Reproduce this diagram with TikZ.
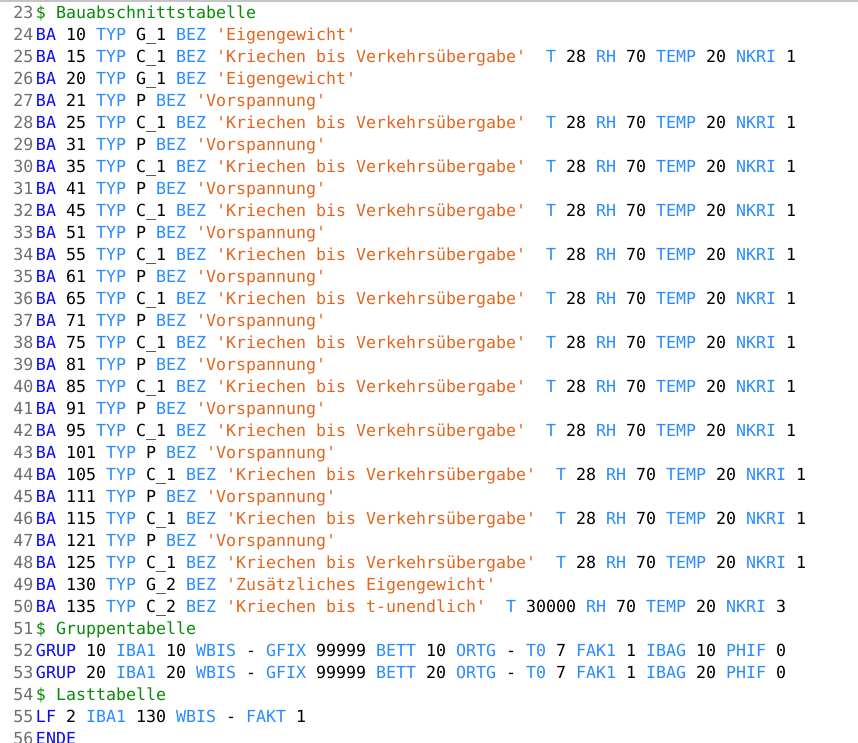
\documentclass[tikz,border=0pt]{standalone}
\usepackage{fontspec}
\setmonofont{DejaVu Sans Mono}
\definecolor{lnogray}{HTML}{6E6E6E}
\definecolor{kwblue}{HTML}{0A0AF0}
\definecolor{attrblue}{HTML}{2A8CFF}
\definecolor{strorange}{HTML}{E2661F}
\definecolor{cmgreen}{HTML}{078A07}
\definecolor{topgray}{HTML}{C4C4C4}
\newcommand\cKw[1]{\textcolor{kwblue}{#1}}
\newcommand\cAt[1]{\textcolor{attrblue}{#1}}
\newcommand\cSt[1]{\textcolor{strorange}{#1}}
\newcommand\cCm[1]{\textcolor{cmgreen}{#1}}
\newcommand\cCr{\cAt{T} 28 \cAt{RH} 70 \cAt{TEMP} 20 \cAt{NKRI} 1}
\tikzset{
  codefont/.style={font=\ttfamily\fontsize{12.46pt}{14pt}\selectfont},
  codeline/.style={codefont, inner sep=0pt, outer sep=0pt, anchor=base west, text=black},
  lineno/.style={codefont, inner sep=0pt, outer sep=0pt, anchor=base east, text=lnogray}
}
\begin{document}
\begin{tikzpicture}[x=0.75pt,y=-0.75pt]
\useasboundingbox (0,0) rectangle (858,743);
\fill[white] (0,0) rectangle (858,743);
\clip (0,0) rectangle (858,743);
\fill[topgray] (0,0) rectangle (858,1.6);
% line numbers
\foreach \n [count=\k from 0] in {23,...,56}{
  \node[lineno] (n\n) at (33.5,18.5+22*\k) {\n};
}
\node[codeline] (l23) at (36,18.5) {\cCm{\$ Bauabschnittstabelle}};
\node[codeline] (l24) at (36,40.5) {\cKw{BA} 10 \cAt{TYP} G\_1 \cAt{BEZ} \cSt{'Eigengewicht'}};
\node[codeline] (l25) at (36,62.5) {\cKw{BA} 15 \cAt{TYP} C\_1 \cAt{BEZ} \cSt{'Kriechen bis Verkehrsübergabe'}\ \ \cCr};
\node[codeline] (l26) at (36,84.5) {\cKw{BA} 20 \cAt{TYP} G\_1 \cAt{BEZ} \cSt{'Eigengewicht'}};
\node[codeline] (l27) at (36,106.5) {\cKw{BA} 21 \cAt{TYP} P \cAt{BEZ} \cSt{'Vorspannung'}};
\node[codeline] (l28) at (36,128.5) {\cKw{BA} 25 \cAt{TYP} C\_1 \cAt{BEZ} \cSt{'Kriechen bis Verkehrsübergabe'}\ \ \cCr};
\node[codeline] (l29) at (36,150.5) {\cKw{BA} 31 \cAt{TYP} P \cAt{BEZ} \cSt{'Vorspannung'}};
\node[codeline] (l30) at (36,172.5) {\cKw{BA} 35 \cAt{TYP} C\_1 \cAt{BEZ} \cSt{'Kriechen bis Verkehrsübergabe'}\ \ \cCr};
\node[codeline] (l31) at (36,194.5) {\cKw{BA} 41 \cAt{TYP} P \cAt{BEZ} \cSt{'Vorspannung'}};
\node[codeline] (l32) at (36,216.5) {\cKw{BA} 45 \cAt{TYP} C\_1 \cAt{BEZ} \cSt{'Kriechen bis Verkehrsübergabe'}\ \ \cCr};
\node[codeline] (l33) at (36,238.5) {\cKw{BA} 51 \cAt{TYP} P \cAt{BEZ} \cSt{'Vorspannung'}};
\node[codeline] (l34) at (36,260.5) {\cKw{BA} 55 \cAt{TYP} C\_1 \cAt{BEZ} \cSt{'Kriechen bis Verkehrsübergabe'}\ \ \cCr};
\node[codeline] (l35) at (36,282.5) {\cKw{BA} 61 \cAt{TYP} P \cAt{BEZ} \cSt{'Vorspannung'}};
\node[codeline] (l36) at (36,304.5) {\cKw{BA} 65 \cAt{TYP} C\_1 \cAt{BEZ} \cSt{'Kriechen bis Verkehrsübergabe'}\ \ \cCr};
\node[codeline] (l37) at (36,326.5) {\cKw{BA} 71 \cAt{TYP} P \cAt{BEZ} \cSt{'Vorspannung'}};
\node[codeline] (l38) at (36,348.5) {\cKw{BA} 75 \cAt{TYP} C\_1 \cAt{BEZ} \cSt{'Kriechen bis Verkehrsübergabe'}\ \ \cCr};
\node[codeline] (l39) at (36,370.5) {\cKw{BA} 81 \cAt{TYP} P \cAt{BEZ} \cSt{'Vorspannung'}};
\node[codeline] (l40) at (36,392.5) {\cKw{BA} 85 \cAt{TYP} C\_1 \cAt{BEZ} \cSt{'Kriechen bis Verkehrsübergabe'}\ \ \cCr};
\node[codeline] (l41) at (36,414.5) {\cKw{BA} 91 \cAt{TYP} P \cAt{BEZ} \cSt{'Vorspannung'}};
\node[codeline] (l42) at (36,436.5) {\cKw{BA} 95 \cAt{TYP} C\_1 \cAt{BEZ} \cSt{'Kriechen bis Verkehrsübergabe'}\ \ \cCr};
\node[codeline] (l43) at (36,458.5) {\cKw{BA} 101 \cAt{TYP} P \cAt{BEZ} \cSt{'Vorspannung'}};
\node[codeline] (l44) at (36,480.5) {\cKw{BA} 105 \cAt{TYP} C\_1 \cAt{BEZ} \cSt{'Kriechen bis Verkehrsübergabe'}\ \ \cCr};
\node[codeline] (l45) at (36,502.5) {\cKw{BA} 111 \cAt{TYP} P \cAt{BEZ} \cSt{'Vorspannung'}};
\node[codeline] (l46) at (36,524.5) {\cKw{BA} 115 \cAt{TYP} C\_1 \cAt{BEZ} \cSt{'Kriechen bis Verkehrsübergabe'}\ \ \cCr};
\node[codeline] (l47) at (36,546.5) {\cKw{BA} 121 \cAt{TYP} P \cAt{BEZ} \cSt{'Vorspannung'}};
\node[codeline] (l48) at (36,568.5) {\cKw{BA} 125 \cAt{TYP} C\_1 \cAt{BEZ} \cSt{'Kriechen bis Verkehrsübergabe'}\ \ \cCr};
\node[codeline] (l49) at (36,590.5) {\cKw{BA} 130 \cAt{TYP} G\_2 \cAt{BEZ} \cSt{'Zusätzliches Eigengewicht'}};
\node[codeline] (l50) at (36,612.5) {\cKw{BA} 135 \cAt{TYP} C\_2 \cAt{BEZ} \cSt{'Kriechen bis t-unendlich'}\ \ \cAt{T} 30000 \cAt{RH} 70 \cAt{TEMP} 20 \cAt{NKRI} 3};
\node[codeline] (l51) at (36,634.5) {\cCm{\$ Gruppentabelle}};
\node[codeline] (l52) at (36,656.5) {\cKw{GRUP} 10 \cAt{IBA1} 10 \cAt{WBIS} - \cAt{GFIX} 99999 \cAt{BETT} 10 \cAt{ORTG} - \cAt{T0} 7 \cAt{FAK1} 1 \cAt{IBAG} 10 \cAt{PHIF} 0};
\node[codeline] (l53) at (36,678.5) {\cKw{GRUP} 20 \cAt{IBA1} 20 \cAt{WBIS} - \cAt{GFIX} 99999 \cAt{BETT} 20 \cAt{ORTG} - \cAt{T0} 7 \cAt{FAK1} 1 \cAt{IBAG} 20 \cAt{PHIF} 0};
\node[codeline] (l54) at (36,700.5) {\cCm{\$ Lasttabelle}};
\node[codeline] (l55) at (36,722.5) {\cKw{LF} 2 \cAt{IBA1} 130 \cAt{WBIS} - \cAt{FAKT} 1};
\node[codeline] (l56) at (36,744.5) {\cKw{ENDE}};
\end{tikzpicture}
\end{document}
